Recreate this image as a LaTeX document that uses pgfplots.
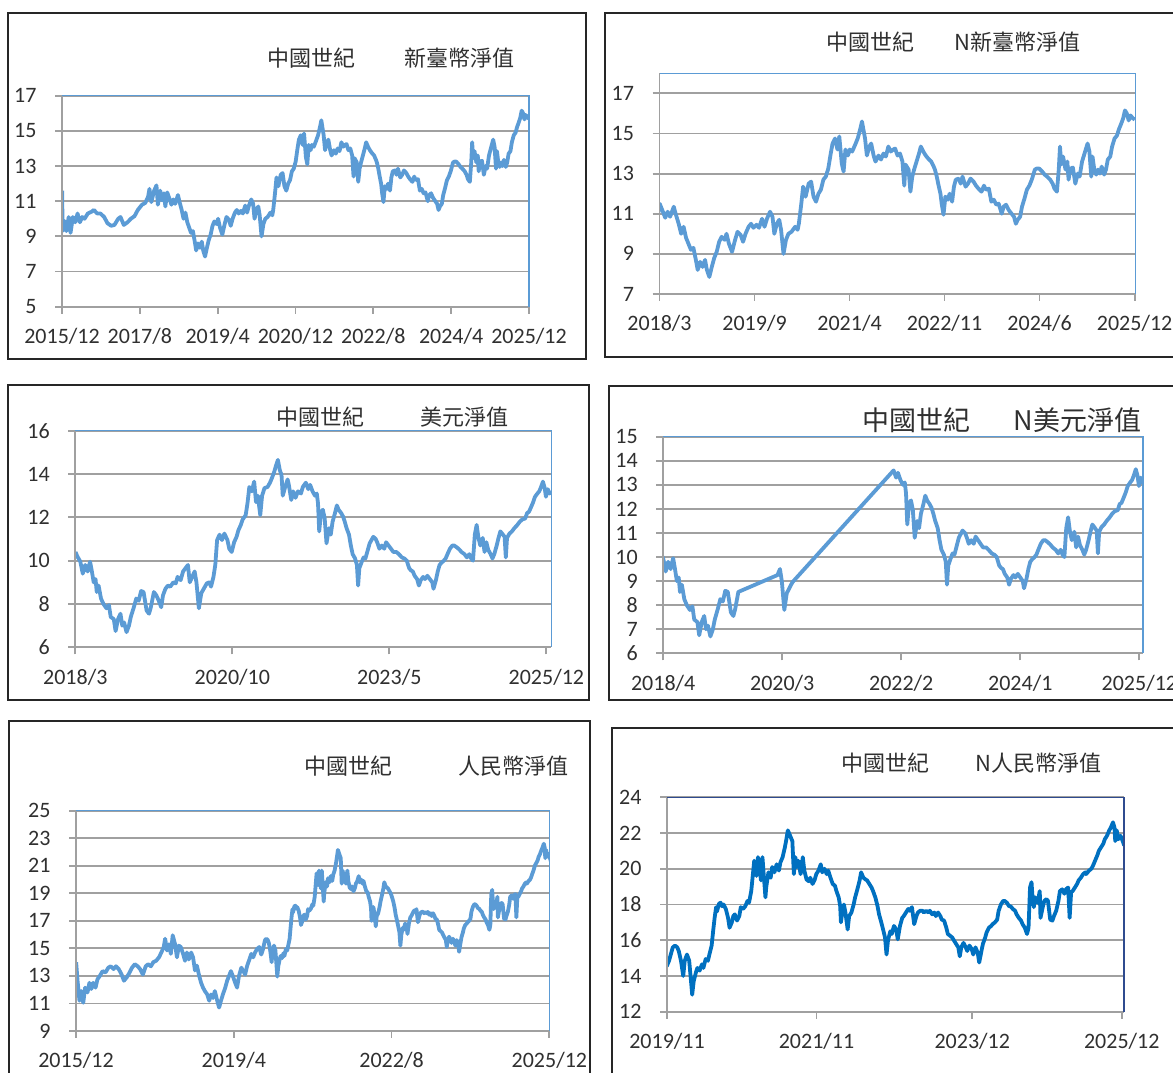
\documentclass[border=0pt]{standalone}
\usepackage{fontspec}
\setmainfont{Carlito}
\newfontfamily\cjk{Noto Sans CJK TC}
\usepackage{pgfplots}
\usepackage{pgfplotstable}
\pgfplotsset{compat=1.18}
\definecolor{ln}{HTML}{5B9BD5}
\definecolor{lnsix}{HTML}{0070C0}
\definecolor{gr}{HTML}{A0A0A0}
\definecolor{bdsix}{HTML}{2F4B8F}
\definecolor{txt}{HTML}{303030}

\pgfplotstableread{
t v
2015.92 11.6
2015.93 9.3
2015.96 9.9
2016.01 9.3
2016.06 10.1
2016.10 9.2
2016.15 10.1
2016.20 9.8
2016.25 10.3
2016.30 9.8
2016.35 10.1
2016.40 10.0
2016.47 10.3
2016.55 10.4
2016.60 10.5
2016.67 10.3
2016.74 10.3
2016.82 10.1
2016.89 9.75
2016.97 9.6
2017.04 9.65
2017.12 10.0
2017.17 10.1
2017.24 9.65
2017.32 9.8
2017.39 10.0
2017.47 10.15
2017.54 10.5
2017.63 10.8
2017.70 10.9
2017.76 11.25
2017.79 11.7
2017.83 10.95
2017.89 11.6
2017.94 11.9
2017.97 10.8
2018.02 11.6
2018.06 11.05
2018.10 11.45
2018.13 10.7
2018.17 11.5
2018.21 11.2
2018.26 10.8
2018.30 11.1
2018.34 10.85
2018.40 11.35
2018.43 11.0
2018.48 10.5
2018.52 10.0
2018.56 10.35
2018.60 9.8
2018.64 9.5
2018.68 9.2
2018.72 9.3
2018.76 8.7
2018.79 8.2
2018.83 8.6
2018.87 8.35
2018.91 8.7
2018.94 8.2
2018.98 7.85
2019.02 8.35
2019.06 8.8
2019.10 9.1
2019.14 9.6
2019.18 9.85
2019.23 9.7
2019.26 10.0
2019.30 9.5
2019.35 9.1
2019.40 9.7
2019.44 10.1
2019.49 9.95
2019.53 9.6
2019.57 10.0
2019.62 10.35
2019.66 10.5
2019.70 10.3
2019.75 10.45
2019.79 10.3
2019.84 10.75
2019.88 10.35
2019.92 10.75
2019.97 11.1
2020.01 10.85
2020.04 10.0
2020.08 10.5
2020.12 10.7
2020.15 10.2
2020.19 9.0
2020.23 9.7
2020.27 10.0
2020.32 10.1
2020.38 10.35
2020.42 10.2
2020.44 10.5
2020.48 11.5
2020.51 12.35
2020.55 11.85
2020.60 12.5
2020.64 12.6
2020.68 11.85
2020.72 11.6
2020.76 12.0
2020.80 12.2
2020.84 12.7
2020.88 12.85
2020.92 13.25
2020.96 14.0
2020.99 14.5
2021.03 14.75
2021.07 14.2
2021.10 14.85
2021.14 13.5
2021.17 13.1
2021.20 14.2
2021.24 13.9
2021.27 14.2
2021.31 14.1
2021.36 14.45
2021.40 14.75
2021.44 15.2
2021.47 15.6
2021.49 15.25
2021.52 14.75
2021.55 13.9
2021.59 14.35
2021.62 14.5
2021.66 13.9
2021.69 13.6
2021.74 13.9
2021.78 13.7
2021.82 14.0
2021.86 13.85
2021.90 14.35
2021.94 14.1
2021.98 14.2
2022.01 14.25
2022.05 13.9
2022.09 14.0
2022.13 13.6
2022.16 12.4
2022.18 13.45
2022.23 13.2
2022.26 12.1
2022.29 12.85
2022.32 13.2
2022.36 13.6
2022.40 14.0
2022.43 14.35
2022.47 14.1
2022.51 13.9
2022.55 13.75
2022.60 13.6
2022.64 13.35
2022.66 13.2
2022.69 12.85
2022.72 12.4
2022.75 12.0
2022.77 11.5
2022.80 10.95
2022.83 11.85
2022.87 11.7
2022.90 12.0
2022.94 11.6
2022.97 12.35
2023.00 12.7
2023.05 12.75
2023.08 12.5
2023.11 12.85
2023.16 12.35
2023.20 12.5
2023.24 12.75
2023.29 12.6
2023.33 12.4
2023.37 12.25
2023.42 12.1
2023.46 12.4
2023.49 12.2
2023.54 12.25
2023.58 11.6
2023.62 11.7
2023.66 11.45
2023.70 11.5
2023.75 11.0
2023.78 11.35
2023.82 11.45
2023.86 11.2
2023.91 11.0
2023.95 10.85
2023.98 10.5
2024.01 10.7
2024.05 10.85
2024.08 11.35
2024.12 11.75
2024.16 12.2
2024.20 12.4
2024.24 12.7
2024.29 13.2
2024.32 13.25
2024.36 13.25
2024.41 13.1
2024.45 12.95
2024.49 12.85
2024.54 12.7
2024.58 12.5
2024.61 12.25
2024.65 12.1
2024.68 13.2
2024.70 14.35
2024.72 13.45
2024.75 13.85
2024.79 13.2
2024.82 13.6
2024.84 12.7
2024.87 13.25
2024.91 13.3
2024.95 12.5
2024.99 13.0
2025.02 12.85
2025.06 13.6
2025.10 14.0
2025.12 14.2
2025.15 14.5
2025.18 14.1
2025.21 12.85
2025.23 13.85
2025.26 13.2
2025.29 12.95
2025.32 13.2
2025.35 13.0
2025.38 13.35
2025.42 12.95
2025.45 13.2
2025.48 13.7
2025.52 13.85
2025.55 14.35
2025.59 14.75
2025.63 14.9
2025.66 15.2
2025.70 15.5
2025.73 15.75
2025.76 16.15
2025.79 16.0
2025.82 15.65
2025.85 15.9
2025.89 15.75
2025.92 15.7
}\twd

\pgfplotstableread{
t v
2018.17 10.4
2018.20 10.2
2018.25 9.95
2018.29 9.4
2018.33 9.8
2018.37 9.5
2018.41 9.95
2018.44 9.5
2018.47 9.0
2018.50 9.15
2018.52 8.55
2018.55 8.85
2018.59 8.25
2018.63 8.0
2018.68 7.8
2018.72 7.95
2018.75 7.4
2018.80 7.3
2018.83 6.75
2018.87 7.3
2018.91 7.55
2018.94 7.0
2018.97 7.15
2019.01 6.7
2019.05 7.0
2019.08 7.4
2019.13 7.85
2019.17 8.25
2019.21 8.15
2019.25 8.6
2019.29 8.55
2019.34 7.7
2019.38 7.55
2019.41 7.85
2019.46 8.55
2019.50 8.4
2019.54 8.15
2019.58 7.85
2019.61 8.4
2019.65 8.7
2019.69 8.85
2019.73 8.8
2019.78 9.0
2019.82 8.95
2019.85 9.25
2019.90 9.1
2019.94 9.5
2019.98 9.65
2020.02 9.8
2020.05 9.0
2020.09 9.25
2020.13 9.5
2020.16 9.0
2020.20 7.8
2020.24 8.5
2020.28 8.7
2020.33 8.95
2020.37 9.0
2020.40 8.8
2020.44 9.25
2020.47 9.8
2020.50 10.95
2020.54 11.2
2020.58 10.95
2020.62 11.25
2020.67 10.95
2020.70 10.55
2020.74 10.4
2020.78 10.85
2020.82 11.1
2020.85 11.4
2020.89 11.65
2020.92 11.9
2020.97 12.1
2021.00 12.65
2021.03 13.4
2021.07 13.2
2021.11 13.65
2021.14 12.7
2021.17 13.0
2021.21 12.1
2021.24 13.0
2021.28 13.35
2021.33 13.4
2021.37 13.6
2021.40 13.8
2021.44 14.1
2021.47 14.4
2021.50 14.65
2021.53 14.2
2021.56 13.95
2021.58 13.0
2021.62 13.4
2021.66 13.75
2021.68 13.5
2021.72 12.8
2021.75 13.2
2021.79 12.9
2021.83 13.2
2021.88 13.1
2021.91 13.4
2021.96 13.6
2022.00 13.3
2022.03 13.5
2022.07 13.2
2022.11 13.0
2022.14 13.1
2022.16 12.65
2022.18 11.35
2022.21 12.25
2022.24 12.35
2022.27 11.95
2022.30 10.8
2022.34 11.5
2022.37 11.2
2022.40 11.8
2022.44 12.2
2022.47 12.55
2022.50 12.35
2022.54 12.2
2022.57 12.05
2022.60 11.8
2022.63 11.5
2022.67 11.2
2022.70 10.7
2022.73 10.3
2022.77 10.1
2022.80 9.8
2022.82 8.85
2022.84 9.65
2022.88 9.95
2022.91 10.15
2022.94 10.1
2022.97 10.4
2023.01 10.8
2023.04 10.95
2023.07 11.1
2023.11 11.0
2023.14 10.8
2023.17 10.55
2023.21 10.7
2023.25 10.55
2023.28 10.85
2023.32 10.7
2023.36 10.55
2023.40 10.4
2023.45 10.4
2023.49 10.3
2023.54 10.15
2023.58 10.1
2023.62 10.0
2023.66 9.65
2023.69 9.55
2023.72 9.5
2023.75 9.3
2023.79 9.15
2023.82 8.85
2023.85 9.1
2023.89 9.25
2023.92 9.15
2023.96 9.3
2024.00 9.15
2024.04 9.0
2024.06 8.7
2024.10 9.1
2024.13 9.5
2024.16 9.8
2024.19 9.9
2024.23 10.0
2024.26 10.1
2024.29 10.3
2024.33 10.55
2024.37 10.7
2024.40 10.7
2024.45 10.6
2024.49 10.5
2024.52 10.4
2024.57 10.3
2024.61 10.15
2024.65 10.3
2024.68 10.1
2024.71 10.0
2024.74 11.2
2024.77 11.65
2024.80 11.05
2024.83 10.7
2024.87 11.05
2024.90 10.4
2024.93 10.85
2024.96 10.5
2025.00 10.3
2025.03 10.1
2025.06 10.3
2025.10 10.7
2025.13 11.05
2025.16 11.35
2025.19 11.25
2025.23 11.1
2025.25 10.15
2025.27 11.05
2025.31 11.25
2025.35 11.35
2025.39 11.5
2025.44 11.65
2025.48 11.8
2025.52 11.9
2025.57 11.95
2025.60 12.2
2025.63 12.25
2025.67 12.5
2025.70 12.7
2025.73 12.95
2025.77 13.1
2025.80 13.2
2025.83 13.4
2025.86 13.65
2025.89 13.35
2025.91 12.95
2025.94 13.3
2025.97 13.1
2026.00 13.2
}\usd

\pgfplotstableread{
t v
2015.92 14.0
2015.95 12.65
2015.99 11.2
2016.03 11.9
2016.07 11.05
2016.11 12.15
2016.16 11.8
2016.20 12.5
2016.24 12.05
2016.28 12.5
2016.33 12.15
2016.37 12.75
2016.42 13.0
2016.48 13.35
2016.54 13.25
2016.60 13.6
2016.65 13.7
2016.71 13.5
2016.76 13.7
2016.82 13.5
2016.88 13.1
2016.93 12.65
2016.99 12.9
2017.05 13.25
2017.10 13.6
2017.16 13.85
2017.22 13.7
2017.27 13.5
2017.33 13.1
2017.39 13.7
2017.44 13.85
2017.50 13.7
2017.55 14.0
2017.61 14.1
2017.67 14.35
2017.72 14.7
2017.77 15.1
2017.80 15.7
2017.84 14.85
2017.88 15.3
2017.92 14.6
2017.96 15.95
2018.01 15.3
2018.05 14.35
2018.09 15.2
2018.13 15.1
2018.18 14.6
2018.22 14.1
2018.26 14.7
2018.30 14.2
2018.35 14.7
2018.39 14.35
2018.43 13.4
2018.47 13.75
2018.52 13.0
2018.56 12.5
2018.60 12.15
2018.64 11.9
2018.69 11.65
2018.73 11.2
2018.77 11.65
2018.81 11.4
2018.85 11.9
2018.90 11.2
2018.94 10.7
2018.98 11.2
2019.02 11.65
2019.07 12.15
2019.11 12.65
2019.15 13.0
2019.19 13.35
2019.24 12.9
2019.28 12.5
2019.32 12.15
2019.36 13.0
2019.41 13.6
2019.45 13.35
2019.49 13.1
2019.53 13.7
2019.58 14.2
2019.62 14.6
2019.66 14.35
2019.70 14.7
2019.74 14.95
2019.79 15.1
2019.83 14.55
2019.86 14.85
2019.89 15.3
2019.91 15.6
2019.94 15.7
2019.97 15.6
2019.99 15.4
2020.02 14.85
2020.05 14.0
2020.07 14.85
2020.10 15.2
2020.13 14.85
2020.15 13.9
2020.17 12.95
2020.19 13.7
2020.22 14.2
2020.24 14.45
2020.27 14.3
2020.30 14.65
2020.32 14.45
2020.35 14.95
2020.38 14.85
2020.40 15.2
2020.43 15.7
2020.45 16.5
2020.47 17.25
2020.49 17.85
2020.50 17.6
2020.53 18.05
2020.55 18.1
2020.57 17.9
2020.59 18.0
2020.62 17.75
2020.65 17.25
2020.67 16.7
2020.70 17.0
2020.72 17.35
2020.74 17.45
2020.77 17.1
2020.80 17.35
2020.82 17.85
2020.85 17.75
2020.88 17.9
2020.91 18.2
2020.93 18.1
2020.96 18.75
2020.98 19.6
2021.00 20.45
2021.03 19.6
2021.05 20.65
2021.07 20.1
2021.09 19.35
2021.11 20.65
2021.13 19.5
2021.15 18.4
2021.16 18.95
2021.19 19.8
2021.22 19.5
2021.24 20.1
2021.27 19.8
2021.30 20.25
2021.33 19.9
2021.35 20.35
2021.38 20.65
2021.41 21.2
2021.43 21.65
2021.45 22.15
2021.47 21.95
2021.49 21.75
2021.51 21.55
2021.53 19.7
2021.55 20.65
2021.57 20.1
2021.59 20.45
2021.62 19.7
2021.65 20.65
2021.67 19.9
2021.70 19.4
2021.73 19.3
2021.75 19.5
2021.78 19.15
2021.81 19.4
2021.83 19.7
2021.86 19.9
2021.89 20.25
2021.91 19.8
2021.94 20.0
2021.97 19.7
2021.99 19.9
2022.02 19.5
2022.05 19.15
2022.08 19.05
2022.10 18.75
2022.13 18.4
2022.15 17.9
2022.16 17.0
2022.18 17.65
2022.20 18.0
2022.22 17.55
2022.25 16.6
2022.27 17.35
2022.30 17.55
2022.33 18.0
2022.35 18.4
2022.38 18.85
2022.41 19.35
2022.43 19.8
2022.46 19.5
2022.49 19.4
2022.51 19.35
2022.54 19.15
2022.57 18.95
2022.59 18.75
2022.62 18.4
2022.65 17.9
2022.67 17.45
2022.70 17.0
2022.73 16.5
2022.75 16.15
2022.77 15.2
2022.79 16.0
2022.82 16.5
2022.84 16.35
2022.87 16.8
2022.90 16.6
2022.92 16.05
2022.95 16.8
2022.98 17.25
2023.00 17.35
2023.03 17.55
2023.06 17.75
2023.08 17.65
2023.11 17.85
2023.14 16.9
2023.17 17.35
2023.19 17.55
2023.22 17.65
2023.25 17.65
2023.27 17.55
2023.30 17.65
2023.33 17.55
2023.35 17.65
2023.38 17.45
2023.41 17.55
2023.43 17.35
2023.46 17.55
2023.49 17.35
2023.51 17.15
2023.54 17.1
2023.57 16.7
2023.59 16.35
2023.62 16.25
2023.65 16.15
2023.67 16.0
2023.70 15.8
2023.73 15.6
2023.75 15.1
2023.77 15.6
2023.80 15.85
2023.83 15.6
2023.85 15.4
2023.88 15.7
2023.91 15.5
2023.93 15.2
2023.96 15.6
2023.99 15.3
2024.01 14.75
2024.04 15.4
2024.06 15.8
2024.09 16.15
2024.11 16.45
2024.14 16.7
2024.17 16.8
2024.19 16.9
2024.22 17.0
2024.25 17.15
2024.27 17.65
2024.30 18.0
2024.33 18.2
2024.35 18.2
2024.38 18.1
2024.41 17.9
2024.43 17.9
2024.46 17.75
2024.49 17.65
2024.51 17.45
2024.54 17.25
2024.57 17.1
2024.59 16.9
2024.62 16.7
2024.65 16.35
2024.67 16.7
2024.69 18.95
2024.71 19.25
2024.72 18.6
2024.74 17.85
2024.76 18.4
2024.79 18.1
2024.82 18.75
2024.83 17.25
2024.86 17.85
2024.88 18.2
2024.91 18.3
2024.93 18.2
2024.96 17.15
2024.99 17.1
2025.01 17.35
2025.04 17.65
2025.07 18.2
2025.09 18.75
2025.12 18.85
2025.15 18.6
2025.17 18.85
2025.20 18.95
2025.22 17.25
2025.24 18.7
2025.26 18.75
2025.29 18.95
2025.32 19.15
2025.34 19.35
2025.37 19.5
2025.40 19.7
2025.43 19.8
2025.44 19.7
2025.48 19.9
2025.51 20.0
2025.53 20.15
2025.56 20.45
2025.59 20.75
2025.61 21.0
2025.64 21.2
2025.67 21.4
2025.69 21.65
2025.72 21.85
2025.75 22.15
2025.77 22.3
2025.80 22.6
2025.82 22.3
2025.83 21.55
2025.85 22.15
2025.87 21.65
2025.90 21.85
2025.93 21.55
2025.95 21.3
}\rmb

\pgfplotsset{
  panel/.style={
    scale only axis, anchor=south west,
    clip mode=individual,
    axis line style={draw=none},
    ymajorgrids, grid style={gr, line width=1.8pt},
    tick align=outside, major tick length=7pt,
    tick style={gr, line width=1.8pt},
    xtick pos=bottom, ytick pos=left,
    minor tick num=0,
    scaled x ticks=false, scaled y ticks=false,
    /pgf/number format/assume math mode=true,
    ticklabel style={font=\fontsize{22}{26}\selectfont, text=txt},
    xticklabel style={yshift=-11pt},
    yticklabel style={xshift=-15pt},
  },
  dataline/.style={ln, line width=3.8pt, line join=round},
}
\newcommand{\borders}[1]{%
  \draw[gr, line width=1.8pt] (rel axis cs:0,1) -- (rel axis cs:0,0) -- (rel axis cs:1,0);
  \draw[#1, line width=1.5pt] (rel axis cs:0,1) -- (rel axis cs:1,1) -- (rel axis cs:1,0);
}
\newcommand{\ttl}{\cjk\fontsize{22}{26}\selectfont}

\begin{document}
\begin{tikzpicture}
\useasboundingbox (0pt,0pt) rectangle (1173pt,1073pt);
\fill[white] (0pt,0pt) rectangle (1173pt,1073pt);

% frames
\draw[black!85, line width=2pt] (8pt,714pt) rectangle (586pt,1060.3pt);
\draw[black!85, line width=2pt] (605pt,716pt) rectangle (1185pt,1060.3pt);
\draw[black!85, line width=2pt] (8.3pt,373pt) rectangle (589pt,688pt);
\draw[black!85, line width=2pt] (608.6pt,373pt) rectangle (1185pt,687.3pt);
\draw[black!85, line width=2pt] (9.4pt,-10pt) rectangle (590pt,352.3pt);
\draw[black!85, line width=2pt] (612.3pt,-10pt) rectangle (1185pt,344.7pt);

% titles
\node[font=\ttl, text=txt] at (311.5pt,1015pt) {中國世紀};
\node[font=\ttl, text=txt] at (459.5pt,1015pt) {新臺幣淨值};
\node[font=\ttl, text=txt] at (870.5pt,1031.3pt) {中國世紀};
\node[font=\ttl, text=txt] at (1017.5pt,1031.3pt) {N新臺幣淨值};
\node[font=\ttl, text=txt] at (320.8pt,656.3pt) {中國世紀};
\node[font=\ttl, text=txt] at (464.2pt,656.3pt) {美元淨值};
\node[font=\cjk\fontsize{27}{31}\selectfont, text=txt] at (916pt,653pt) {中國世紀};
\node[font=\cjk\fontsize{27}{31}\selectfont, text=txt] at (1077.3pt,653pt) {N美元淨值};
\node[font=\ttl, text=txt] at (348.2pt,307pt) {中國世紀};
\node[font=\ttl, text=txt] at (513.5pt,307pt) {人民幣淨值};
\node[font=\ttl, text=txt] at (885.9pt,309.7pt) {中國世紀};
\node[font=\ttl, text=txt] at (1038.4pt,309.7pt) {N人民幣淨值};

% panel 1
\begin{axis}[panel, at={(62pt,766.3pt)}, width=467pt, height=211pt,
  xmin=0.917, xmax=10.917, ymin=5, ymax=17, ytick={5,7,...,17},
  xtick={0.917,2.583,4.25,5.917,7.583,9.25,10.917},
  xticklabels={2015/12,2017/8,2019/4,2020/12,2022/8,2024/4,2025/12}]
\addplot[dataline] table[x expr=\thisrow{t}-2015, y=v]{\twd};
\borders{ln}
\end{axis}

% panel 2
\begin{axis}[panel, at={(659.5pt,779pt)}, width=476.2pt, height=220.7pt,
  xmin=3.167, xmax=10.935, ymin=7, ymax=18, ytick={7,9,...,17},
  xtick={3.167,4.717,6.267,7.817,9.367,10.917},
  xticklabels={2018/3,2019/9,2021/4,2022/11,2024/6,2025/12}]
\addplot[dataline] table[x expr=\thisrow{t}-2015, y=v]{\twd};
\borders{ln}
\end{axis}

% panel 3
\begin{axis}[panel, at={(75.3pt,425.7pt)}, width=476.1pt, height=216.6pt,
  xmin=3.167, xmax=11.0, ymin=6, ymax=16, ytick={6,8,...,16},
  xtick={3.167,5.75,8.333,10.917},
  xticklabels={2018/3,2020/10,2023/5,2025/12}]
\addplot[dataline] table[x expr=\thisrow{t}-2015, y=v]{\usd};
\borders{ln}
\end{axis}

% panel 4
\begin{axis}[panel, at={(663.2pt,419.7pt)}, width=479.8pt, height=216.6pt,
  xmin=3.25, xmax=10.976, ymin=6, ymax=15, ytick={6,7,...,15},
  xtick={3.25,5.167,7.083,9.0,10.917},
  xticklabels={2018/4,2020/3,2022/2,2024/1,2025/12}]
\addplot[dataline, x filter/.expression={or(and(x>4.47,x<5.08),and(x>5.34,x<6.95)) ? nan : x}] table[x expr=\thisrow{t}-2015, y=v]{\usd};
\borders{ln}
\end{axis}

% panel 5
\begin{axis}[panel, at={(76pt,42pt)}, width=473.5pt, height=220.3pt,
  xmin=0.917, xmax=10.92, ymin=9, ymax=25, ytick={9,11,...,25},
  xtick={0.917,4.25,7.583,10.917},
  xticklabels={2015/12,2019/4,2022/8,2025/12}]
\addplot[dataline] table[x expr=\thisrow{t}-2015, y=v]{\rmb};
\borders{ln}
\end{axis}

% panel 6
\begin{axis}[panel, at={(667pt,61.3pt)}, width=457.2pt, height=214.4pt,
  xmin=4.833, xmax=10.95, ymin=12, ymax=24, ytick={12,14,...,24},
  xtick={4.833,6.833,8.917,10.917},
  xticklabels={2019/11,2021/11,2023/12,2025/12}]
\addplot[lnsix, line width=3.8pt, line join=round] table[x expr=\thisrow{t}-2015, y=v]{\rmb};
\borders{bdsix}
\end{axis}
\end{tikzpicture}
\end{document}
